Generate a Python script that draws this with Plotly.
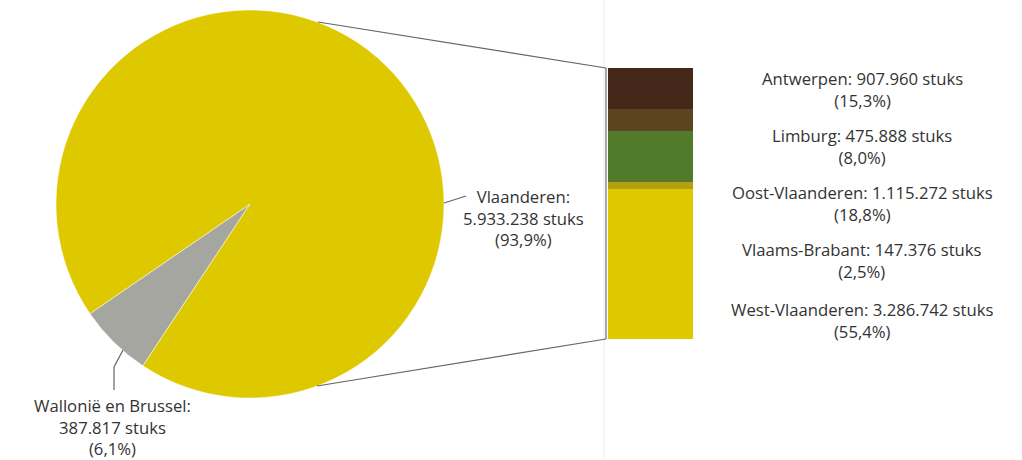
import plotly.graph_objects as go

# Pie data
pie_labels = ["Wallonië en Brussel", "Vlaanderen"]
pie_values = [387817, 5933238]
pie_colors = ["#a6a6a1", "#dec900"]

# Stacked bar data (bottom to top)
prov_labels = ["West-Vlaanderen", "Vlaams-Brabant", "Oost-Vlaanderen", "Limburg", "Antwerpen"]
prov_values = [3286742, 147376, 1115272, 475888, 907960]
prov_pct = ["55,4%", "2,5%", "18,8%", "8,0%", "15,3%"]
prov_counts = ["3.286.742", "147.376", "1.115.272", "475.888", "907.960"]
prov_colors = ["#dec900", "#b59f12", "#527a2b", "#5a4520", "#45281a"]

W, H = 1022, 460
FONT = "Open Sans"
FS = 16.7
TXT = "#333333"

def px(x):
    return x / W

def py(y):
    return 1 - y / H

fig = go.Figure()

fig.add_trace(go.Pie(
    labels=pie_labels, values=pie_values, sort=False, direction="clockwise",
    rotation=213.5, marker=dict(colors=pie_colors, line=dict(color="white", width=0.5)),
    textinfo="none", hoverinfo="label+value+percent", showlegend=False,
    domain=dict(x=[px(56), px(444)], y=[py(398), py(10)]),
))

for lab, val, col in zip(prov_labels, prov_values, prov_colors):
    fig.add_trace(go.Bar(
        x=[0], y=[val], name=lab, marker=dict(color=col, line=dict(width=0)),
        width=1, xaxis="x", yaxis="y", showlegend=False,
    ))

total = sum(prov_values)
fig.update_layout(
    width=W, height=H, margin=dict(l=0, r=0, t=0, b=0),
    paper_bgcolor="white", plot_bgcolor="rgba(0,0,0,0)",
    barmode="stack", bargap=0,
    xaxis=dict(domain=[px(608), px(693)], range=[-0.5, 0.5], visible=False, fixedrange=True),
    yaxis=dict(domain=[py(339), py(68)], range=[0, total], visible=False, fixedrange=True),
    font=dict(family=FONT, size=FS, color=TXT),
)

annotations = []
# right labels, top to bottom
ys = [78, 135, 192, 249, 309]
for i, y in enumerate(ys):
    j = len(prov_labels) - 1 - i
    annotations.append(dict(
        x=px(862), y=py(y + 11.5), xref="paper", yref="paper", xanchor="center", yanchor="middle",
        text=f"{prov_labels[j]}: {prov_counts[j]} stuks<br>({prov_pct[j]})",
        showarrow=False, align="center", font=dict(family=FONT, size=FS, color=TXT),
    ))

annotations.append(dict(
    x=px(523), y=py(218), xref="paper", yref="paper", xanchor="center", yanchor="middle",
    text="Vlaanderen:<br>5.933.238 stuks<br>(93,9%)", showarrow=False, align="center",
    font=dict(family=FONT, size=FS, color=TXT),
))
annotations.append(dict(
    x=px(112), y=py(427), xref="paper", yref="paper", xanchor="center", yanchor="middle",
    text="Wallonië en Brussel:<br>387.817 stuks<br>(6,1%)", showarrow=False, align="center",
    font=dict(family=FONT, size=FS, color=TXT),
))
fig.update_layout(annotations=annotations)

line = dict(color="#666666", width=1.2)
shapes = [
    # faint panel border
    dict(type="line", xref="paper", yref="paper", x0=px(604), x1=px(604), y0=0, y1=1,
         line=dict(color="#eeeeee", width=1)),
    # bracket
    dict(type="line", xref="paper", yref="paper", x0=px(606), x1=px(606), y0=py(68), y1=py(339),
         line=dict(color="#888888", width=1.5)),
    # connectors from pie to bar
    dict(type="line", xref="paper", yref="paper", x0=px(318), y0=py(22), x1=px(606), y1=py(68), line=line),
    dict(type="line", xref="paper", yref="paper", x0=px(317), y0=py(386), x1=px(606), y1=py(339), line=line),
    # Vlaanderen leader
    dict(type="line", xref="paper", yref="paper", x0=px(444), y0=py(203), x1=px(466), y1=py(196), line=line),
    # Wallonie leader
    dict(type="path", xref="paper", yref="paper",
         path=f"M {px(123)} {py(350)} L {px(114)} {py(367)} L {px(114)} {py(390)}", line=line),
]
fig.update_layout(shapes=shapes)

fig.write_html("out.html", config={"displayModeBar": False},
               post_script="document.body.style.margin='0px';")
